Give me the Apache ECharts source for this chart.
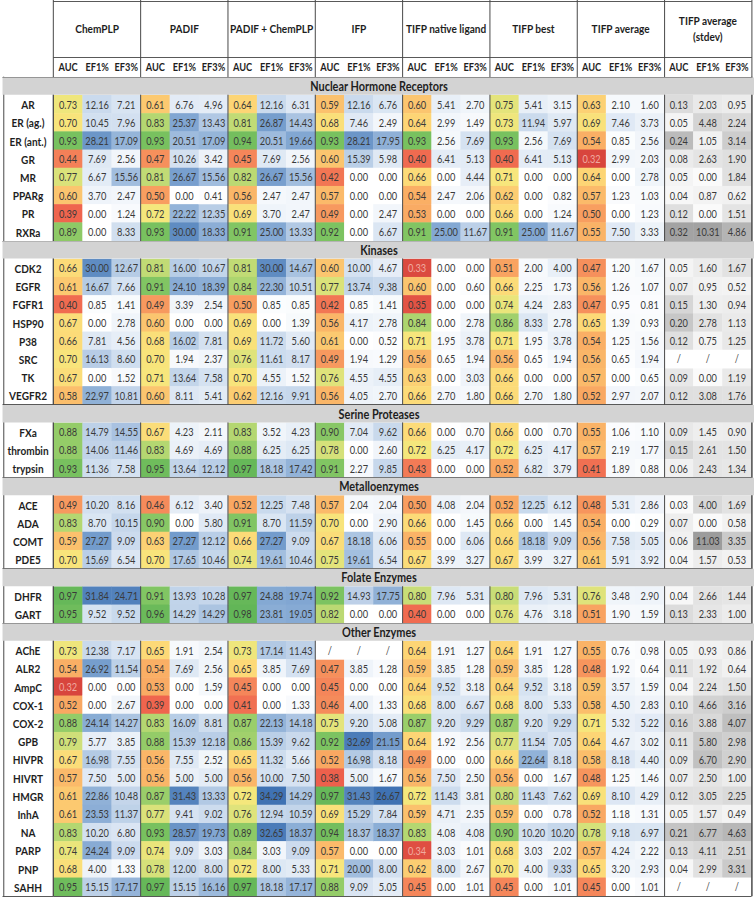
<!DOCTYPE html>
<html><head><meta charset="utf-8">
<script src="https://cdn.jsdelivr.net/npm/echarts@6/dist/echarts.min.js"></script>
<style>html,body{margin:0;padding:0;background:#fff;overflow:hidden}
#chart{width:898px;height:898px;transform:scaleX(0.839644);transform-origin:0 0}</style>
</head><body><div id="chart"></div>
<script>
// ---------------- DATA ----------------
const methods = ['ChemPLP', 'PADIF', 'PADIF + ChemPLP', 'IFP', 'TIFP native ligand', 'TIFP best', 'TIFP average', 'TIFP average (stdev)'];
const metrics = ['AUC', 'EF1%', 'EF3%'];
const families = ['Nuclear Hormone Receptors', 'Kinases', 'Serine Proteases', 'Metalloenzymes', 'Folate Enzymes', 'Other Enzymes'];

const nuclearTargets = ['AR', 'ER (ag.)', 'ER (ant.)', 'GR', 'MR', 'PPARg', 'PR', 'RXRa'];
const nuclearValues = [
  [0.73,12.16,7.21, 0.61,6.76,4.96, 0.64,12.16,6.31, 0.59,12.16,6.76, 0.60,5.41,2.70, 0.75,5.41,3.15, 0.63,2.10,1.60, 0.13,2.03,0.95],
  [0.70,10.45,7.96, 0.83,25.37,13.43, 0.81,26.87,14.43, 0.68,7.46,2.49, 0.64,2.99,1.49, 0.73,11.94,5.97, 0.69,7.46,3.73, 0.05,4.48,2.24],
  [0.93,28.21,17.09, 0.93,20.51,17.09, 0.94,20.51,19.66, 0.93,28.21,17.95, 0.93,2.56,7.69, 0.93,2.56,7.69, 0.54,0.85,2.56, 0.24,1.05,3.14],
  [0.44,7.69,2.56, 0.47,10.26,3.42, 0.45,7.69,2.56, 0.60,15.39,5.98, 0.40,6.41,5.13, 0.40,6.41,5.13, 0.32,2.99,2.03, 0.08,2.63,1.90],
  [0.77,6.67,15.56, 0.81,26.67,15.56, 0.82,26.67,15.56, 0.42,0.00,0.00, 0.66,0.00,4.44, 0.71,0.00,0.00, 0.64,0.00,2.78, 0.05,0.00,1.84],
  [0.60,3.70,2.47, 0.50,0.00,0.41, 0.56,2.47,2.47, 0.57,0.00,0.00, 0.54,2.47,2.06, 0.62,0.00,0.82, 0.57,1.23,1.03, 0.04,0.87,0.62],
  [0.39,0.00,1.24, 0.72,22.22,12.35, 0.69,3.70,2.47, 0.49,0.00,2.47, 0.53,0.00,0.00, 0.66,0.00,1.24, 0.50,0.00,1.23, 0.12,0.00,1.51],
  [0.89,0.00,8.33, 0.93,30.00,18.33, 0.91,25.00,13.33, 0.92,0.00,6.67, 0.91,25.00,11.67, 0.91,25.00,11.67, 0.55,7.50,3.33, 0.32,10.31,4.86]
];

const kinaseTargets = ['CDK2', 'EGFR', 'FGFR1', 'HSP90', 'P38', 'SRC', 'TK', 'VEGFR2'];
const kinaseValues = [
  [0.66,30.00,12.67, 0.81,16.00,10.67, 0.81,30.00,14.67, 0.60,10.00,4.67, 0.33,0.00,0.00, 0.51,2.00,4.00, 0.47,1.20,1.67, 0.05,1.60,1.67],
  [0.61,16.67,7.66, 0.91,24.10,18.39, 0.84,22.30,10.51, 0.77,13.74,9.38, 0.60,0.00,0.60, 0.66,2.25,1.73, 0.56,1.26,1.07, 0.07,0.95,0.52],
  [0.40,0.85,1.41, 0.49,3.39,2.54, 0.50,0.85,0.85, 0.42,0.85,1.41, 0.35,0.00,0.00, 0.74,4.24,2.83, 0.47,0.95,0.81, 0.15,1.30,0.94],
  [0.67,0.00,2.78, 0.60,0.00,0.00, 0.69,0.00,1.39, 0.56,4.17,2.78, 0.84,0.00,2.78, 0.86,8.33,2.78, 0.65,1.39,0.93, 0.20,2.78,1.13],
  [0.66,7.81,4.56, 0.68,16.02,7.81, 0.69,11.72,5.60, 0.61,0.00,0.52, 0.71,1.95,3.78, 0.71,1.95,3.78, 0.54,1.25,1.56, 0.12,0.75,1.25],
  [0.70,16.13,8.60, 0.70,1.94,2.37, 0.76,11.61,8.17, 0.49,1.94,1.29, 0.56,0.65,1.94, 0.56,0.65,1.94, 0.56,0.65,1.94, null,null,null],
  [0.67,0.00,1.52, 0.71,13.64,7.58, 0.70,4.55,1.52, 0.76,4.55,4.55, 0.63,0.00,3.03, 0.66,0.00,0.00, 0.57,0.00,0.65, 0.09,0.00,1.19],
  [0.58,22.97,10.81, 0.60,8.11,5.41, 0.62,12.16,9.91, 0.56,4.05,2.70, 0.66,2.70,1.80, 0.66,2.70,1.80, 0.52,2.97,2.07, 0.12,3.08,1.76]
];

const serineTargets = ['FXa', 'thrombin', 'trypsin'];
const serineValues = [
  [0.88,14.79,14.55, 0.67,4.23,2.11, 0.83,3.52,4.23, 0.90,7.04,9.62, 0.66,0.00,0.70, 0.66,0.00,0.70, 0.55,1.06,1.10, 0.09,1.45,0.90],
  [0.88,14.06,11.46, 0.83,4.69,4.69, 0.88,6.25,6.25, 0.78,0.00,2.60, 0.72,6.25,4.17, 0.72,6.25,4.17, 0.57,2.19,1.77, 0.15,2.61,1.50],
  [0.93,11.36,7.58, 0.95,13.64,12.12, 0.97,18.18,17.42, 0.91,2.27,9.85, 0.43,0.00,0.00, 0.52,6.82,3.79, 0.41,1.89,0.88, 0.06,2.43,1.34]
];

const metalloTargets = ['ACE', 'ADA', 'COMT', 'PDE5'];
const metalloValues = [
  [0.49,10.20,8.16, 0.46,6.12,3.40, 0.52,12.25,7.48, 0.57,2.04,2.04, 0.50,4.08,2.04, 0.52,12.25,6.12, 0.48,5.31,2.86, 0.03,4.00,1.69],
  [0.83,8.70,10.15, 0.90,0.00,5.80, 0.91,8.70,11.59, 0.70,0.00,2.90, 0.66,0.00,1.45, 0.66,0.00,1.45, 0.54,0.00,0.29, 0.07,0.00,0.58],
  [0.59,27.27,9.09, 0.63,27.27,12.12, 0.66,27.27,9.09, 0.67,18.18,6.06, 0.55,0.00,6.06, 0.66,18.18,9.09, 0.56,7.58,5.05, 0.06,11.03,3.35],
  [0.70,15.69,6.54, 0.70,17.65,10.46, 0.74,19.61,10.46, 0.75,19.61,6.54, 0.67,3.99,3.27, 0.67,3.99,3.27, 0.61,5.91,3.92, 0.04,1.57,0.53]
];

const folateTargets = ['DHFR', 'GART'];
const folateValues = [
  [0.97,31.84,24.71, 0.91,13.93,10.28, 0.97,24.88,19.74, 0.92,14.93,17.75, 0.80,7.96,5.31, 0.80,7.96,5.31, 0.76,3.48,2.90, 0.04,2.66,1.44],
  [0.95,9.52,9.52, 0.96,14.29,14.29, 0.98,23.81,19.05, 0.82,0.00,0.00, 0.40,0.00,0.00, 0.76,4.76,3.18, 0.51,1.90,1.59, 0.13,2.33,1.00]
];

const otherTargets = ['AChE', 'ALR2', 'AmpC', 'COX-1', 'COX-2', 'GPB', 'HIVPR', 'HIVRT', 'HMGR', 'InhA', 'NA', 'PARP', 'PNP', 'SAHH'];
const otherValues = [
  [0.73,12.38,7.17, 0.65,1.91,2.54, 0.73,17.14,11.43, null,null,null, 0.64,1.91,1.27, 0.64,1.91,1.27, 0.55,0.76,0.98, 0.05,0.93,0.86],
  [0.54,26.92,11.54, 0.54,7.69,2.56, 0.65,3.85,7.69, 0.47,3.85,1.28, 0.59,3.85,1.28, 0.59,3.85,1.28, 0.48,1.92,0.64, 0.11,1.92,0.64],
  [0.32,0.00,0.00, 0.53,0.00,1.59, 0.45,0.00,0.00, 0.45,0.00,0.00, 0.64,9.52,3.18, 0.64,9.52,3.18, 0.59,3.57,1.59, 0.04,2.24,1.50],
  [0.52,0.00,2.67, 0.39,0.00,0.00, 0.41,0.00,1.33, 0.46,4.00,1.33, 0.68,8.00,6.67, 0.68,8.00,5.33, 0.58,4.50,2.83, 0.10,4.66,3.16],
  [0.88,24.14,14.27, 0.83,16.09,8.81, 0.87,22.13,14.18, 0.75,9.20,5.08, 0.87,9.20,9.29, 0.87,9.20,9.29, 0.71,5.32,5.22, 0.16,3.88,4.07],
  [0.79,5.77,3.85, 0.88,15.39,12.18, 0.86,15.39,9.62, 0.92,32.69,21.15, 0.64,1.92,2.56, 0.77,11.54,7.05, 0.64,4.67,3.02, 0.11,5.80,2.98],
  [0.67,16.98,7.55, 0.56,7.55,2.52, 0.65,11.32,5.66, 0.52,16.98,8.18, 0.49,0.00,0.00, 0.66,22.64,8.18, 0.58,8.18,4.40, 0.09,6.70,2.90],
  [0.57,7.50,5.00, 0.56,5.00,5.00, 0.56,10.00,7.50, 0.38,5.00,1.67, 0.56,7.50,2.50, 0.56,0.00,1.67, 0.48,1.25,1.46, 0.07,2.50,1.00],
  [0.61,22.86,10.48, 0.87,31.43,13.33, 0.72,34.29,14.29, 0.97,31.43,26.67, 0.72,11.43,3.81, 0.80,11.43,7.62, 0.69,8.10,4.29, 0.12,3.05,2.25],
  [0.61,23.53,11.37, 0.77,9.41,9.02, 0.76,12.94,10.59, 0.69,15.29,7.84, 0.59,4.71,2.35, 0.59,0.00,0.78, 0.52,1.18,1.31, 0.05,1.57,0.49],
  [0.83,10.20,6.80, 0.93,28.57,19.73, 0.89,32.65,18.37, 0.94,18.37,18.37, 0.83,4.08,4.08, 0.90,10.20,10.20, 0.78,9.18,6.97, 0.21,6.77,4.63],
  [0.74,24.24,9.09, 0.74,9.09,3.03, 0.84,3.03,9.09, 0.57,0.00,0.00, 0.34,3.03,1.01, 0.68,3.03,2.02, 0.57,4.24,2.22, 0.13,4.11,2.51],
  [0.68,4.00,1.33, 0.78,12.00,8.00, 0.72,8.00,5.33, 0.71,20.00,8.00, 0.62,8.00,2.67, 0.70,4.00,9.33, 0.65,3.20,2.93, 0.04,2.99,3.31],
  [0.95,15.15,17.17, 0.97,15.15,16.16, 0.97,18.18,17.17, 0.88,9.09,5.05, 0.45,0.00,1.01, 0.45,0.00,1.01, 0.45,0.00,1.01, null,null,null]
];

// ---------------- BUILD ----------------
const familyTargets = [nuclearTargets, kinaseTargets, serineTargets, metalloTargets, folateTargets, otherTargets];
const familyValues = [nuclearValues, kinaseValues, serineValues, metalloValues, folateValues, otherValues];

const rowLabels = [];
const isBand = [];
const rowValues = [];
families.forEach((f, fi) => {
  rowLabels.push(f); isBand.push(true); rowValues.push(null);
  familyTargets[fi].forEach((t, ti) => {
    rowLabels.push(t); isBand.push(false); rowValues.push(familyValues[fi][ti]);
  });
});
const xCats = [];
methods.forEach(m => metrics.forEach(k => xCats.push(m + '|' + k)));

// the whole chart is drawn 898px wide and compressed horizontally to 754px (narrow Calibri-like text)
const SX = 754 / 898;
const FONT = 'Lato, "Open Sans", sans-serif';
const LINE = '#4a4a4a';
const TEXT = '#3a3a3a';
const CW = 898, CH = 898;
const GRID = {left: 51 / SX, right: 1 / SX, top: 77, bottom: 2};
const TABLE_W = CW - GRID.right;
const rowH = (CH - GRID.top - GRID.bottom) / rowLabels.length;

// series buckets: 0 AUC, 1 EF1, 2 EF3, 3 sd AUC, 4 sd EF1, 5 sd EF3, 6 missing
const buckets = [[], [], [], [], [], [], []];
rowValues.forEach((vals, r) => {
  if (!vals) return;
  vals.forEach((v, c) => {
    const g = Math.floor(c / 3), m = c % 3;
    if (v === null) { buckets[6].push([c, r, 0]); return; }
    const b = g < 7 ? m : 3 + m;
    if (b === 0 && v < 0.345) {
      buckets[b].push({value: [c, r, v], label: {color: '#f0aaa0'}});
    } else {
      buckets[b].push([c, r, v]);
    }
  });
});

function heat(data, fmt) {
  return {
    type: 'heatmap', xAxisIndex: 0, yAxisIndex: 0, z: 2, data: data,
    itemStyle: {borderWidth: 0},
    emphasis: {disabled: true},
    label: {show: true, formatter: fmt || (p => p.value[2].toFixed(2)), fontFamily: FONT, fontSize: 11, color: TEXT}
  };
}
const series = buckets.slice(0, 6).map(d => heat(d));
const miss = heat(buckets[6], () => '/');
miss.itemStyle = {color: '#ffffff', borderWidth: 0};
series.push(miss);

const aucColors = ['#d8453d', '#ef634d', '#f5875a', '#f9a762', '#fbbf6c', '#fdd977', '#f6e77c', '#d4e17a', '#a8d36e', '#7fc462', '#62b657'];
const blue = ['#ffffff', '#dbe6f3', '#b2c9e4', '#7fa5d1', '#3f72b3'];
const visualMap = [
  {seriesIndex: 0, min: 0.32, max: 0.98, inRange: {color: aucColors}},
  {seriesIndex: 1, min: 0, max: 34.29, inRange: {color: blue}},
  {seriesIndex: 2, min: 0, max: 26.67, inRange: {color: blue}},
  {seriesIndex: 3, min: 0.03, max: 0.32, inRange: {color: ['#fafafa', '#a3a3a3']}},
  {seriesIndex: 4, min: 0, max: 11.03, inRange: {color: ['#fafafa', '#9c9c9c']}},
  {seriesIndex: 5, min: 0.49, max: 4.86, inRange: {color: ['#f3f3f3', '#b4b4b4']}}
].map(v => Object.assign({type: 'continuous', show: false, dimension: 2}, v));

const hLine = {color: LINE, width: 1};
const vLine = {color: LINE, width: 1.2};
const option = {
  animation: false,
  backgroundColor: '#ffffff',
  grid: GRID,
  xAxis: [
    {type: 'category', data: xCats, position: 'top', offset: 0, z: 3,
     axisLine: {show: true, lineStyle: hLine}, axisTick: {show: false}, splitLine: {show: false},
     axisLabel: {interval: 0, margin: 5, formatter: v => v.split('|')[1], fontFamily: FONT, fontWeight: 'bold', fontSize: 11, color: '#1e1e1e'}},
    {type: 'category', data: methods, position: 'top', offset: 0, z: 3,
     axisLine: {show: false}, axisTick: {show: true, interval: 0, length: GRID.top, lineStyle: vLine},
     splitLine: {show: true, interval: 0, lineStyle: vLine},
     axisLabel: {interval: 0, margin: 49, verticalAlign: 'middle', lineHeight: 16, formatter: v => v.replace(' (', '\n('), fontFamily: FONT, fontWeight: 'bold', fontSize: 12, color: '#1e1e1e'}},
    {type: 'category', data: methods, position: 'top', offset: 20, z: 3,
     axisLine: {show: true, lineStyle: hLine}, axisTick: {show: false}, axisLabel: {show: false}, splitLine: {show: false}},
    {type: 'category', data: methods, position: 'top', offset: 76, z: 3,
     axisLine: {show: true, lineStyle: hLine}, axisTick: {show: false}, axisLabel: {show: false}, splitLine: {show: false}}
  ],
  yAxis: [
    {type: 'category', data: rowLabels, inverse: true, position: 'left', z: 4,
     axisLine: {show: true, lineStyle: vLine},
     axisTick: {show: true, interval: i => isBand[i], length: GRID.left, lineStyle: hLine},
     splitLine: {show: true, interval: i => isBand[i], lineStyle: hLine},
     axisLabel: {interval: 0, margin: GRID.left, align: 'left',
       formatter: (v, i) => isBand[i] ? '{band|' + v + '}' : '{row|' + v + '}',
       rich: {
         band: {width: TABLE_W, height: rowH - 0.8, lineHeight: rowH - 0.8, align: 'center', backgroundColor: '#d3d3d3',
                fontFamily: FONT, fontWeight: 'bold', fontSize: 13, color: '#1e1e1e'},
         row: {width: GRID.left, align: 'center', fontFamily: FONT, fontWeight: 'bold', fontSize: 12, color: '#1e1e1e'}
       }}},
    {type: 'category', data: rowLabels, inverse: true, position: 'left', offset: GRID.left - 0.8, z: 4,
     axisLine: {show: true, lineStyle: vLine}, axisTick: {show: false}, axisLabel: {show: false}, splitLine: {show: false}},
    {type: 'category', data: rowLabels, inverse: true, position: 'right', offset: 0, z: 4,
     axisLine: {show: true, lineStyle: vLine}, axisTick: {show: false}, axisLabel: {show: false}, splitLine: {show: false}}
  ],
  visualMap: visualMap,
  series: series
};
const chart = echarts.init(document.getElementById('chart'), null, {renderer: 'svg', width: CW, height: CH});
chart.setOption(option);
</script>
</body></html>
